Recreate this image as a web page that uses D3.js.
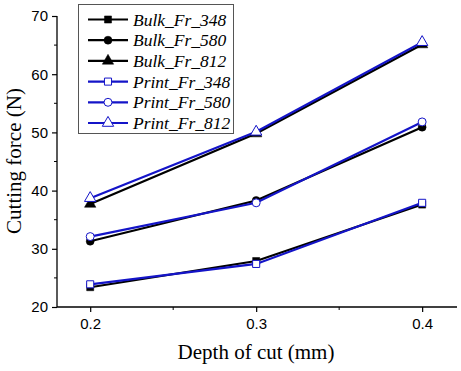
<!DOCTYPE html>
<html>
<head>
<meta charset="utf-8">
<script src="https://cdn.jsdelivr.net/npm/d3@7"></script>
<style>
  body { margin: 0; background: #fff; }
  svg { display: block; }
</style>
</head>
<body>
<svg width="461" height="371"></svg>
<script>
// data
const depths = [0.2, 0.3, 0.4];
const seriesNames = ["Bulk_Fr_348", "Bulk_Fr_580", "Bulk_Fr_812", "Print_Fr_348", "Print_Fr_580", "Print_Fr_812"];
const bulk348 = [23.4, 27.9, 37.6];
const bulk580 = [31.3, 38.3, 50.9];
const bulk812 = [37.7, 49.8, 65.1];
const print348 = [23.9, 27.4, 37.9];
const print580 = [32.1, 37.9, 51.8];
const print812 = [38.7, 50.1, 65.5];
const yTicks = [20, 30, 40, 50, 60, 70];
const xTicks = [0.2, 0.3, 0.4];

const svg = d3.select("svg");
const margin = {left: 57, right: 4, top: 16, bottom: 64};
const width = +svg.attr("width");
const height = +svg.attr("height");

const x = d3.scaleLinear().domain([0.18, 0.421]).range([margin.left, width - margin.right]);
const y = d3.scaleLinear().domain([20, 70]).range([height - margin.bottom, margin.top]);

const blue = "#1414c8";
const series = [
  {name: seriesNames[0], values: bulk348, color: "#000", shape: d3.symbolSquare, filled: true},
  {name: seriesNames[1], values: bulk580, color: "#000", shape: d3.symbolCircle, filled: true},
  {name: seriesNames[2], values: bulk812, color: "#000", shape: d3.symbolTriangle, filled: true},
  {name: seriesNames[3], values: print348, color: blue, shape: d3.symbolSquare, filled: false},
  {name: seriesNames[4], values: print580, color: blue, shape: d3.symbolCircle, filled: false},
  {name: seriesNames[5], values: print812, color: blue, shape: d3.symbolTriangle, filled: false}
];

// axes
const xAxis = d3.axisBottom(x).tickValues(xTicks).tickFormat(d3.format(".1f")).tickSize(5).tickPadding(6);
const yAxis = d3.axisLeft(y).tickValues(yTicks).tickSize(5).tickPadding(4);

const gx = svg.append("g").attr("transform", `translate(0,${y(20)})`).call(xAxis);
const gy = svg.append("g").attr("transform", `translate(${x(0.18)},0)`).call(yAxis);

// minor ticks
gx.selectAll(".minor").data([0.25, 0.35]).enter().append("line")
  .attr("x1", d => x(d)).attr("x2", d => x(d)).attr("y1", 0).attr("y2", 3)
  .attr("stroke", "#000");
gy.selectAll(".minor").data([25, 35, 45, 55, 65]).enter().append("line")
  .attr("y1", d => y(d)).attr("y2", d => y(d)).attr("x1", 0).attr("x2", -3)
  .attr("stroke", "#000");

[gx, gy].forEach(g => {
  g.select(".domain").attr("stroke", "#000").attr("stroke-width", 1.3);
  g.selectAll(".tick line").attr("stroke", "#000").attr("stroke-width", 1.2);
  g.selectAll("text").attr("font-family", "Liberation Sans, Arial, sans-serif")
    .attr("font-size", 15).attr("fill", "#000");
});
gx.select(".domain").attr("d", `M${x(0.18)},0H${x(0.421)}`);
gy.select(".domain").attr("d", `M0,${y(20)}V${y(70)}`);

// axis titles
svg.append("text")
  .attr("x", 256).attr("y", 359)
  .attr("text-anchor", "middle")
  .attr("font-family", "Liberation Serif, Times New Roman, serif")
  .attr("font-size", 21)
  .text("Depth of cut (mm)");

svg.append("text")
  .attr("transform", "translate(21,161) rotate(-90)")
  .attr("text-anchor", "middle")
  .attr("font-family", "Liberation Serif, Times New Roman, serif")
  .attr("font-size", 21)
  .text("Cutting force (N)");

// lines and markers
const line = d3.line().x((d, i) => x(depths[i])).y(d => y(d));
const symbolGen = s => d3.symbol().type(s.shape).size(s.shape === d3.symbolTriangle ? 56 : 50)();

series.forEach(s => {
  svg.append("path")
    .attr("d", line(s.values))
    .attr("fill", "none")
    .attr("stroke", s.color)
    .attr("stroke-width", 2.2);
  svg.selectAll(null).data(s.values).enter().append("path")
    .attr("transform", (d, i) => `translate(${x(depths[i])},${y(d)})`)
    .attr("d", symbolGen(s))
    .attr("fill", s.filled ? s.color : "#fff")
    .attr("stroke", s.color)
    .attr("stroke-width", s.filled ? 0.5 : 1);
});

// legend
const legend = svg.append("g");
legend.append("rect")
  .attr("x", 78.5).attr("y", 4.5).attr("width", 155).attr("height", 129)
  .attr("fill", "#fff").attr("stroke", "#555").attr("stroke-width", 1);

const rows = legend.selectAll(".row").data(series).enter().append("g")
  .attr("transform", (d, i) => `translate(0,${19.5 + i * 20.7})`);
rows.append("line")
  .attr("x1", 88).attr("x2", 128).attr("y1", 0).attr("y2", 0)
  .attr("stroke", d => d.color).attr("stroke-width", 2.2);
rows.append("path")
  .attr("transform", "translate(108,0)")
  .attr("d", d => symbolGen(d))
  .attr("fill", d => d.filled ? d.color : "#fff")
  .attr("stroke", d => d.color)
  .attr("stroke-width", d => d.filled ? 0.5 : 1);
rows.append("text")
  .attr("x", 133).attr("y", 6)
  .attr("font-family", "Liberation Serif, Times New Roman, serif")
  .attr("font-style", "italic")
  .attr("font-size", 17.5)
  .text(d => d.name);
</script>
</body>
</html>
